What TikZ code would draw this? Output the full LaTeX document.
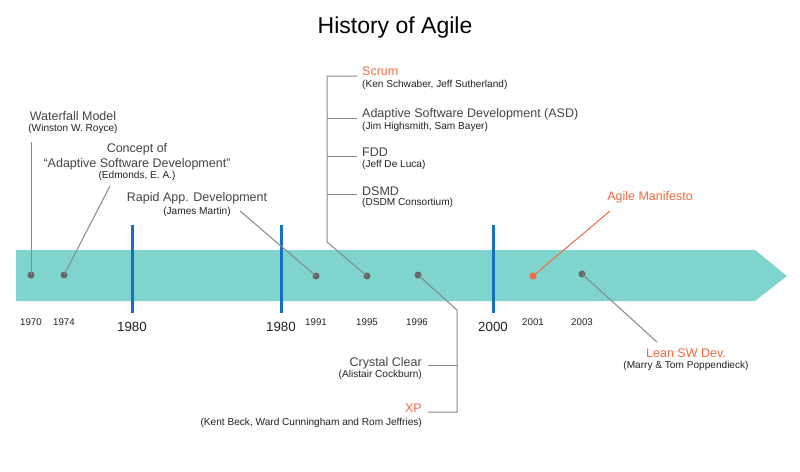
\documentclass[tikz,border=0pt]{standalone}
\usepackage{fontspec}
\setmainfont{Liberation Sans}
\definecolor{band}{HTML}{7FD4CE}
\definecolor{bluel}{HTML}{1570C4}
\definecolor{orng}{HTML}{F26A40}
\definecolor{dotg}{HTML}{666666}
\definecolor{lineg}{HTML}{888888}
\definecolor{maint}{HTML}{444444}
\definecolor{subt}{HTML}{222222}
\begin{document}
\begin{tikzpicture}[x=1pt,y=-1pt,
  lbl/.style={inner sep=0pt,font=\fontsize{12.5}{14}\selectfont,text=maint},
  sub/.style={inner sep=0pt,font=\fontsize{10.1}{11}\selectfont,text=subt},
  yr/.style={inner sep=0pt,font=\fontsize{9.7}{11}\selectfont,text=subt,anchor=base},
  bigyr/.style={inner sep=0pt,font=\fontsize{13.3}{15}\selectfont,text=subt,anchor=base},
  dot/.style={circle,fill=dotg,inner sep=0pt,minimum size=7pt},
  odot/.style={circle,fill=orng,inner sep=0pt,minimum size=7pt},
  conn/.style={draw=lineg,line width=1pt},
  oconn/.style={draw=orng,line width=1pt},
  era/.style={draw=bluel,line width=3pt}]
\useasboundingbox (0,0) rectangle (800,471);
\fill[white] (0,0) rectangle (800,471);
% title
\node[inner sep=0pt,anchor=base,font=\fontsize{23}{27}\selectfont,text=black] (title) at (395,33) {History of Agile};
% band
\fill[band] (16,250) -- (755,250) -- (787,276) -- (755,301) -- (16,301) -- cycle;
% era lines
\coordinate (e1t) at (132,225); \coordinate (e1b) at (132,313);
\coordinate (e2t) at (281,225); \coordinate (e2b) at (281,313);
\coordinate (e3t) at (493,225); \coordinate (e3b) at (493,313);
\draw[era] (e1t) -- (e1b);
\draw[era] (e2t) -- (e2b);
\draw[era] (e3t) -- (e3b);
% dots
\node[dot] (d1970) at (31,275) {};
\node[dot] (d1974) at (64,275) {};
\node[dot] (d1991) at (316,276) {};
\node[dot] (d1995) at (367,276) {};
\node[dot] (d1996) at (418,275) {};
\node[odot] (d2001) at (533,276) {};
\node[dot] (d2003) at (582,274) {};
% year labels
\node[yr] (y1970) at (31,325) {1970};
\node[yr] (y1974) at (64,325) {1974};
\node[bigyr] (y1980a) at (132,331.5) {1980};
\node[bigyr] (y1980b) at (281,331.5) {1980};
\node[yr] (y1991) at (316,325) {1991};
\node[yr] (y1995) at (367,325) {1995};
\node[yr] (y1996) at (417,325) {1996};
\node[bigyr] (y2000) at (493,331.5) {2000};
\node[yr] (y2001) at (533,325) {2001};
\node[yr] (y2003) at (582,325) {2003};
% Waterfall
\node[lbl,anchor=base] (wf) at (73,120) {Waterfall Model};
\node[sub,anchor=base] (wfs) at (73,131) {(Winston W. Royce)};
\coordinate (cwf) at (31,142);
\draw[conn] (d1970.center) -- (cwf);
% Concept of ASD
\node[lbl,anchor=base] (ca1) at (137,152.5) {Concept of};
\node[lbl,anchor=base] (ca2) at (137,167.5) {“Adaptive Software Development”};
\node[sub,anchor=base] (cas) at (137,178) {(Edmonds, E. A.)};
\coordinate (cca) at (110,186);
\draw[conn] (d1974.center) -- (cca);
% RAD
\node[lbl,anchor=base] (rad) at (197,201) {Rapid App. Development};
\node[sub,anchor=base] (rads) at (197,214) {(James Martin)};
\coordinate (crad) at (240,211);
\draw[conn] (d1991.center) -- (crad);
% 1995 group
\node[lbl,anchor=base west,text=orng] (scrum) at (362,75) {Scrum};
\node[sub,anchor=base west] (scrums) at (362,87) {(Ken Schwaber, Jeff Sutherland)};
\node[lbl,anchor=base west] (asd) at (362,117) {Adaptive Software Development (ASD)};
\node[sub,anchor=base west] (asds) at (362,129) {(Jim Highsmith, Sam Bayer)};
\node[lbl,anchor=base west] (fdd) at (362,156) {FDD};
\node[sub,anchor=base west] (fdds) at (362,167.5) {(Jeff De Luca)};
\node[lbl,anchor=base west] (dsmd) at (362,195) {DSMD};
\node[sub,anchor=base west] (dsmds) at (362,205) {(DSDM Consortium)};
\coordinate (g1) at (327,242);
\coordinate (gt) at (327,76);
\coordinate (kscrum) at (357,76);
\coordinate (kasd) at (357,118);
\coordinate (kfdd) at (357,156);
\coordinate (kdsmd) at (357,194);
\draw[conn] (d1995.center) -- (g1) -- (gt) -- (kscrum);
\draw[conn] (kasd) -- (kasd -| gt);
\draw[conn] (kfdd) -- (kfdd -| gt);
\draw[conn] (kdsmd) -- (kdsmd -| gt);
% 1996 group
\node[lbl,anchor=base east] (cc) at (422,366) {Crystal Clear};
\node[sub,anchor=base east] (ccs) at (422,377) {(Alistair Cockburn)};
\node[lbl,anchor=base east,text=orng] (xp) at (422,412) {XP};
\node[sub,anchor=base east] (xps) at (422,425) {(Kent Beck, Ward Cunningham and Rom Jeffries)};
\coordinate (h1) at (457,310);
\coordinate (hb) at (457,412);
\coordinate (kcc) at (428,365);
\coordinate (kxp) at (428,412);
\draw[conn] (d1996.center) -- (h1) -- (hb) -- (kxp);
\draw[conn] (kcc) -- (kcc -| h1);
% Agile manifesto
\node[lbl,anchor=base,text=orng] (am) at (650,200.5) {Agile Manifesto};
\coordinate (cam) at (610,211);
\draw[oconn] (d2001.center) -- (cam);
% Lean
\node[lbl,anchor=base,text=orng] (lean) at (686,357) {Lean SW Dev.};
\node[sub,anchor=base] (leans) at (686,368) {(Marry \& Tom Poppendieck)};
\coordinate (clean) at (657,342);
\draw[conn] (d2003.center) -- (clean);
\end{tikzpicture}
\end{document}
